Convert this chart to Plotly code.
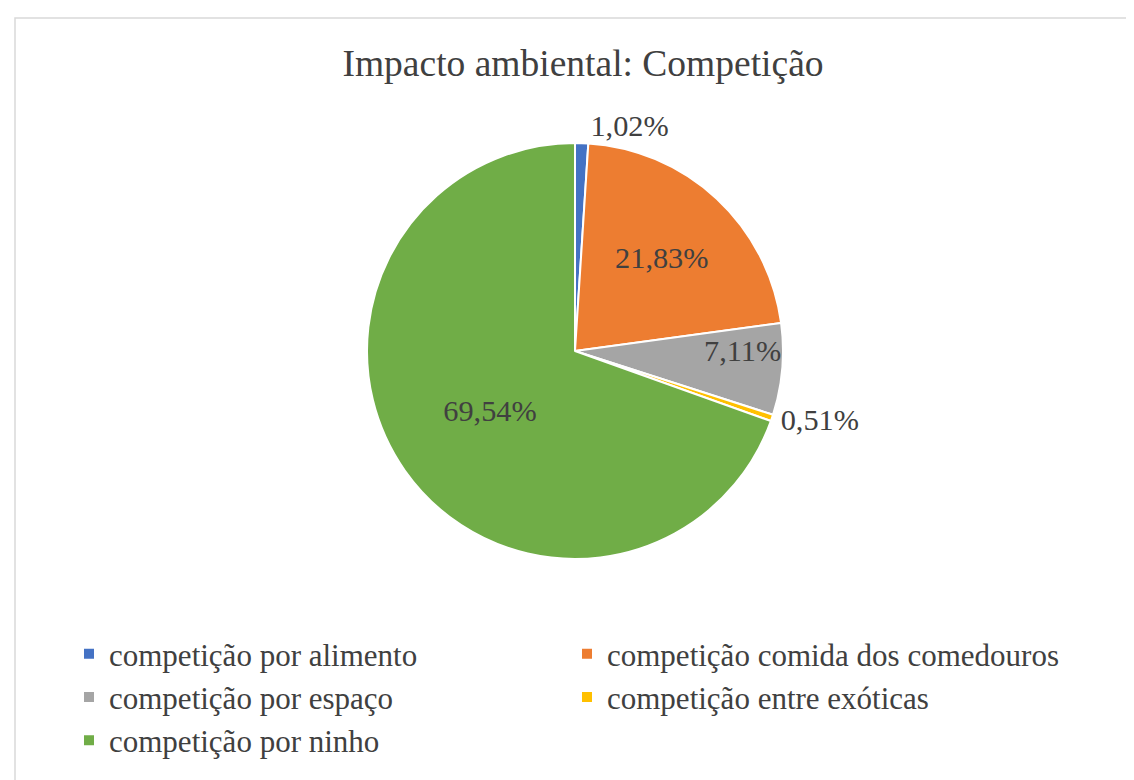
import plotly.graph_objects as go

# Impacto ambiental: Competição
categorias = [
    "competição por alimento",
    "competição comida dos comedouros",
    "competição por espaço",
    "competição entre exóticas",
    "competição por ninho",
]
percentuais = [1.02, 21.83, 7.11, 0.51, 69.54]
cores = ["#4472C4", "#ED7D31", "#A5A5A5", "#FFC000", "#70AD47"]
posicao_texto = ["outside", "inside", "inside", "outside", "inside"]

W, H = 1134, 780
fonte = "Times New Roman, Liberation Serif, DejaVu Serif, serif"

fig = go.Figure()
fig.add_trace(go.Pie(
    labels=categorias,
    values=percentuais,
    sort=False,
    direction="clockwise",
    rotation=0,
    marker=dict(colors=cores, line=dict(color="white", width=2)),
    texttemplate="%{value:.2f}%",
    textposition=posicao_texto,
    insidetextorientation="horizontal",
    textfont=dict(family=fonte, size=30.5, color="#404040"),
    hoverinfo="label+value",
    domain=dict(x=[359 / W, 775 / W], y=[1 - 551 / H, 1 - 135 / H]),
))

fig.update_layout(
    width=W, height=H,
    margin=dict(l=0, r=0, t=0, b=0),
    paper_bgcolor="white",
    separators=",.",
    font=dict(family=fonte, color="#404040"),
    title=dict(
        text="Impacto ambiental: Competição",
        x=575 / W, xanchor="center",
        y=1 - 55 / H, yanchor="middle",
        font=dict(family=fonte, size=37.5, color="#404040"),
    ),
    uniformtext=dict(minsize=30, mode="show"),
    showlegend=True,
    legend=dict(
        orientation="h",
        x=61 / W, xanchor="left",
        y=1 - 619 / H, yanchor="top",
        entrywidth=453, entrywidthmode="pixels",
        font=dict(family=fonte, size=31, color="#404040"),
        traceorder="normal",
    ),
    shapes=[dict(
        type="rect", xref="paper", yref="paper",
        x0=7 / W, x1=1.05, y0=-0.05, y1=1 - 10 / H,
        line=dict(color="#D9D9D9", width=1.5),
    )],
)

fig.write_html("out.html")
